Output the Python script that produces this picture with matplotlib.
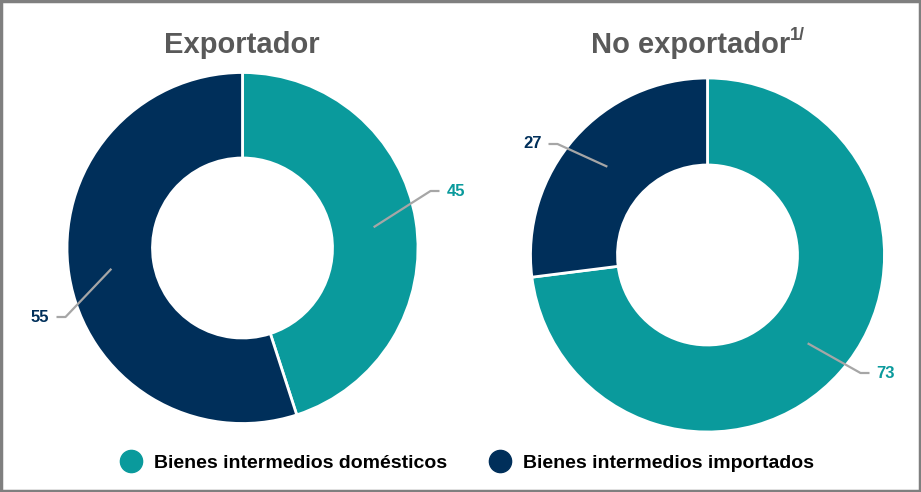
import numpy as np
import matplotlib
matplotlib.use("Agg")
import matplotlib.pyplot as plt
from matplotlib.lines import Line2D
from matplotlib.patches import Rectangle

# data
categories = ["Bienes intermedios domésticos", "Bienes intermedios importados"]
titles = ["Exportador", "No exportador"]
exportador = [45, 55]
no_exportador = [73, 27]

colors = ["#0a9a9c", "#002f5a"]
title_color = "#595959"
line_color = "#a6a6a6"
W, H = 921, 492

plt.rcParams['font.family'] = ['Liberation Sans', 'DejaVu Sans']

fig = plt.figure(figsize=(W / 100, H / 100), dpi=100)
ax = fig.add_axes([0, 0, 1, 1])


def draw_donut(ax, values, cx, cy, r, r_in, elbows):
    wedges, _ = ax.pie(values, colors=colors, startangle=90, counterclock=False,
                       center=(cx, H - cy), radius=r,
                       wedgeprops=dict(width=r - r_in, edgecolor="white", linewidth=2))
    for w, v, col, (ex, ey) in zip(wedges, values, colors, elbows):
        mid = np.deg2rad((w.theta1 + w.theta2) / 2)
        rm = (r + r_in) / 2
        ax0 = cx + rm * np.cos(mid)
        ay0 = H - cy + rm * np.sin(mid)
        bx = cx + ex
        by = H - cy + ey
        side = 1 if ex > 0 else -1
        end = bx + side * 9
        ax.plot([ax0, bx, end], [ay0, by, by], color=line_color, lw=1.6,
                solid_capstyle="butt", zorder=5)
        ax.text(end + side * 7, by, str(v), color=col, fontsize=12, fontweight="bold",
                ha="left" if side > 0 else "right", va="center")


draw_donut(ax, exportador, 242.5, 248, 175.5, 90, [(188, 57), (-177, -69)])
draw_donut(ax, no_exportador, 707.5, 255, 177, 90, [(153, -118), (-150, 111)])

ax.text(242, H - 45, titles[0], fontsize=21, fontweight="bold", color=title_color,
        ha="center", va="center")
ax.text(790, H - 45, titles[1], fontsize=21, fontweight="bold", color=title_color,
        ha="right", va="center")
ax.text(790, H - 36, "1/", fontsize=13, fontweight="bold", color=title_color,
        ha="left", va="center")

ax.set_xlim(0, W)
ax.set_ylim(0, H)
ax.set_aspect("equal")
ax.axis("off")

handles = [Line2D([], [], marker="o", ls="", markersize=16, markerfacecolor=c,
                  markeredgecolor=c) for c in colors]
fig.legend(handles, categories, loc="center", bbox_to_anchor=(467 / W, 1 - 463 / H),
           ncol=2, frameon=False, prop=dict(size=14, weight="bold"),
           handlelength=1.1, handletextpad=0.6, columnspacing=2.2)

fig.patches.append(Rectangle((0.0015, 0.003), 0.997, 0.994, transform=fig.transFigure,
                             fill=False, edgecolor="#7f7f7f", linewidth=2.5))

fig.savefig("out.png", dpi=100)
